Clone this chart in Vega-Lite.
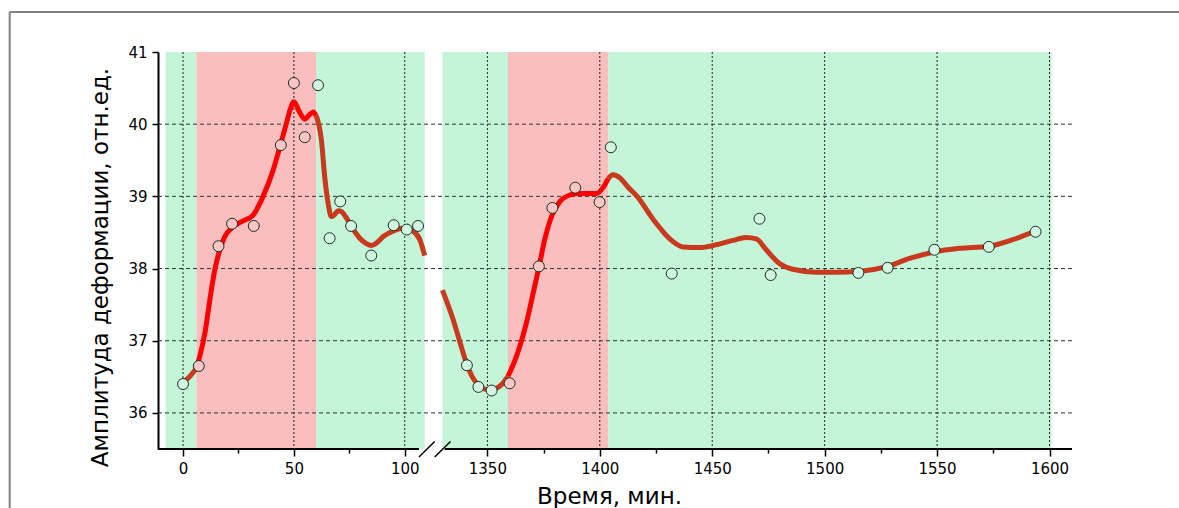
{
  "$schema": "https://vega.github.io/schema/vega-lite/v6.json",
  "width": 914,
  "height": 397,
  "autosize": {"type": "none"},
  "padding": {"left": 158, "top": 52, "right": 107, "bottom": 59},
  "background": "white",
  "config": {"view": {"stroke": null}, "font": "DejaVu Sans"},
  "datasets": {
    "bg": [
      {"t0": -7.8, "t1": 6, "state": "rest"},
      {"t0": 6, "t1": 60, "state": "load"},
      {"t0": 60, "t1": 109, "state": "rest"},
      {"t0": 1330, "t1": 1359.2, "state": "rest"},
      {"t0": 1359.2, "t1": 1403.8, "state": "load"},
      {"t0": 1403.8, "t1": 1601, "state": "rest"}
    ],
    "xgrid": [{"g": 0}, {"g": 50}, {"g": 100}, {"g": 1350}, {"g": 1400}, {"g": 1450}, {"g": 1500}, {"g": 1550}, {"g": 1600}],
    "ygrid": [{"g": 36}, {"g": 37}, {"g": 38}, {"g": 39}, {"g": 40}],
    "curve": [
      {"t": 0.8, "a": 36.44, "seg": 1, "state": "rest"},
      {"t": 3.5, "a": 36.52, "seg": 1, "state": "rest"},
      {"t": 6, "a": 36.62, "seg": 1, "state": "rest"},
      {"t": 6, "a": 36.62, "seg": 2, "state": "load"},
      {"t": 8, "a": 36.84, "seg": 2, "state": "load"},
      {"t": 10, "a": 37.13, "seg": 2, "state": "load"},
      {"t": 12, "a": 37.55, "seg": 2, "state": "load"},
      {"t": 14.3, "a": 37.98, "seg": 2, "state": "load"},
      {"t": 16.6, "a": 38.26, "seg": 2, "state": "load"},
      {"t": 18.8, "a": 38.44, "seg": 2, "state": "load"},
      {"t": 22.6, "a": 38.58, "seg": 2, "state": "load"},
      {"t": 27.1, "a": 38.66, "seg": 2, "state": "load"},
      {"t": 31.6, "a": 38.74, "seg": 2, "state": "load"},
      {"t": 36.1, "a": 39.0, "seg": 2, "state": "load"},
      {"t": 40.6, "a": 39.36, "seg": 2, "state": "load"},
      {"t": 43.9, "a": 39.71, "seg": 2, "state": "load"},
      {"t": 46.6, "a": 40.01, "seg": 2, "state": "load"},
      {"t": 48.3, "a": 40.2, "seg": 2, "state": "load"},
      {"t": 50, "a": 40.31, "seg": 2, "state": "load"},
      {"t": 52.5, "a": 40.17, "seg": 2, "state": "load"},
      {"t": 54.9, "a": 40.07, "seg": 2, "state": "load"},
      {"t": 57, "a": 40.13, "seg": 2, "state": "load"},
      {"t": 58.7, "a": 40.17, "seg": 2, "state": "load"},
      {"t": 60, "a": 40.12, "seg": 2, "state": "load"},
      {"t": 60, "a": 40.12, "seg": 3, "state": "rest"},
      {"t": 61.2, "a": 40.0, "seg": 3, "state": "rest"},
      {"t": 62.4, "a": 39.78, "seg": 3, "state": "rest"},
      {"t": 63.9, "a": 39.27, "seg": 3, "state": "rest"},
      {"t": 65.4, "a": 38.91, "seg": 3, "state": "rest"},
      {"t": 66.9, "a": 38.72, "seg": 3, "state": "rest"},
      {"t": 68.4, "a": 38.75, "seg": 3, "state": "rest"},
      {"t": 70, "a": 38.8, "seg": 3, "state": "rest"},
      {"t": 71.4, "a": 38.79, "seg": 3, "state": "rest"},
      {"t": 73.7, "a": 38.7, "seg": 3, "state": "rest"},
      {"t": 76, "a": 38.58, "seg": 3, "state": "rest"},
      {"t": 79.7, "a": 38.42, "seg": 3, "state": "rest"},
      {"t": 82.5, "a": 38.35, "seg": 3, "state": "rest"},
      {"t": 85, "a": 38.32, "seg": 3, "state": "rest"},
      {"t": 87.5, "a": 38.36, "seg": 3, "state": "rest"},
      {"t": 90.2, "a": 38.44, "seg": 3, "state": "rest"},
      {"t": 95.5, "a": 38.53, "seg": 3, "state": "rest"},
      {"t": 100, "a": 38.56, "seg": 3, "state": "rest"},
      {"t": 103.7, "a": 38.52, "seg": 3, "state": "rest"},
      {"t": 106.8, "a": 38.4, "seg": 3, "state": "rest"},
      {"t": 109, "a": 38.18, "seg": 3, "state": "rest"},
      {"t": 1330, "a": 37.7, "seg": 4, "state": "rest"},
      {"t": 1334.8, "a": 37.29, "seg": 4, "state": "rest"},
      {"t": 1337.8, "a": 36.98, "seg": 4, "state": "rest"},
      {"t": 1340.7, "a": 36.69, "seg": 4, "state": "rest"},
      {"t": 1343.3, "a": 36.5, "seg": 4, "state": "rest"},
      {"t": 1345.9, "a": 36.39, "seg": 4, "state": "rest"},
      {"t": 1348.8, "a": 36.33, "seg": 4, "state": "rest"},
      {"t": 1351.8, "a": 36.32, "seg": 4, "state": "rest"},
      {"t": 1354, "a": 36.34, "seg": 4, "state": "rest"},
      {"t": 1356.2, "a": 36.39, "seg": 4, "state": "rest"},
      {"t": 1359.2, "a": 36.51, "seg": 4, "state": "rest"},
      {"t": 1359.2, "a": 36.51, "seg": 5, "state": "load"},
      {"t": 1362.9, "a": 36.78, "seg": 5, "state": "load"},
      {"t": 1367.3, "a": 37.24, "seg": 5, "state": "load"},
      {"t": 1371, "a": 37.75, "seg": 5, "state": "load"},
      {"t": 1373, "a": 38.03, "seg": 5, "state": "load"},
      {"t": 1375.5, "a": 38.4, "seg": 5, "state": "load"},
      {"t": 1378.5, "a": 38.72, "seg": 5, "state": "load"},
      {"t": 1382.3, "a": 38.93, "seg": 5, "state": "load"},
      {"t": 1386.8, "a": 39.02, "seg": 5, "state": "load"},
      {"t": 1390.5, "a": 39.04, "seg": 5, "state": "load"},
      {"t": 1394.2, "a": 39.04, "seg": 5, "state": "load"},
      {"t": 1398.6, "a": 39.04, "seg": 5, "state": "load"},
      {"t": 1401.6, "a": 39.13, "seg": 5, "state": "load"},
      {"t": 1403.8, "a": 39.25, "seg": 5, "state": "load"},
      {"t": 1403.8, "a": 39.25, "seg": 6, "state": "rest"},
      {"t": 1405.8, "a": 39.3, "seg": 6, "state": "rest"},
      {"t": 1409.2, "a": 39.25, "seg": 6, "state": "rest"},
      {"t": 1412.5, "a": 39.13, "seg": 6, "state": "rest"},
      {"t": 1416.6, "a": 39.0, "seg": 6, "state": "rest"},
      {"t": 1424, "a": 38.67, "seg": 6, "state": "rest"},
      {"t": 1431.5, "a": 38.4, "seg": 6, "state": "rest"},
      {"t": 1436.9, "a": 38.3, "seg": 6, "state": "rest"},
      {"t": 1444.4, "a": 38.29, "seg": 6, "state": "rest"},
      {"t": 1451.8, "a": 38.33, "seg": 6, "state": "rest"},
      {"t": 1459.2, "a": 38.39, "seg": 6, "state": "rest"},
      {"t": 1465.1, "a": 38.43, "seg": 6, "state": "rest"},
      {"t": 1469.6, "a": 38.41, "seg": 6, "state": "rest"},
      {"t": 1474, "a": 38.26, "seg": 6, "state": "rest"},
      {"t": 1479.9, "a": 38.07, "seg": 6, "state": "rest"},
      {"t": 1485.8, "a": 37.99, "seg": 6, "state": "rest"},
      {"t": 1496.2, "a": 37.95, "seg": 6, "state": "rest"},
      {"t": 1505, "a": 37.95, "seg": 6, "state": "rest"},
      {"t": 1515, "a": 37.96, "seg": 6, "state": "rest"},
      {"t": 1528, "a": 38.03, "seg": 6, "state": "rest"},
      {"t": 1537.7, "a": 38.14, "seg": 6, "state": "rest"},
      {"t": 1548.8, "a": 38.23, "seg": 6, "state": "rest"},
      {"t": 1560, "a": 38.28, "seg": 6, "state": "rest"},
      {"t": 1573, "a": 38.31, "seg": 6, "state": "rest"},
      {"t": 1583.6, "a": 38.4, "seg": 6, "state": "rest"},
      {"t": 1593.8, "a": 38.52, "seg": 6, "state": "rest"}
    ],
    "points": [
      {"t": 0, "a": 36.4}, {"t": 7.1, "a": 36.65}, {"t": 16, "a": 38.31}, {"t": 22.1, "a": 38.62},
      {"t": 31.9, "a": 38.59}, {"t": 44.1, "a": 39.71}, {"t": 50, "a": 40.57}, {"t": 54.9, "a": 39.82},
      {"t": 60.9, "a": 40.54}, {"t": 66.1, "a": 38.42}, {"t": 70.9, "a": 38.93}, {"t": 75.8, "a": 38.59},
      {"t": 84.9, "a": 38.18}, {"t": 95, "a": 38.6}, {"t": 100.9, "a": 38.54}, {"t": 106, "a": 38.59},
      {"t": 1340.9, "a": 36.66}, {"t": 1346, "a": 36.36}, {"t": 1351.9, "a": 36.31}, {"t": 1359.9, "a": 36.41},
      {"t": 1372.9, "a": 38.03}, {"t": 1378.9, "a": 38.84}, {"t": 1389.1, "a": 39.12}, {"t": 1399.9, "a": 38.92},
      {"t": 1404.9, "a": 39.68}, {"t": 1432, "a": 37.93}, {"t": 1471, "a": 38.69}, {"t": 1476, "a": 37.91},
      {"t": 1515, "a": 37.94}, {"t": 1528, "a": 38.01}, {"t": 1548.8, "a": 38.26}, {"t": 1573, "a": 38.3},
      {"t": 1593.8, "a": 38.51}
    ],
    "axisline": [{"t0": -11.3, "t1": 106.4}, {"t0": 1331, "t1": 1610}],
    "breaks": [{"t0": 106.4, "t1": 799}, {"t0": 799, "t1": 1333.6}]
  },
  "layer": [
    {
      "data": {"name": "bg"},
      "mark": {"type": "rect"},
      "encoding": {
        "x": {
          "field": "t0", "type": "quantitative",
          "scale": {"domain": [-11.3, 109, 1330, 1610], "range": [0, 266.7, 284.4, 914], "zero": false, "nice": false},
          "axis": {
            "values": [0, 25, 50, 75, 100, 1350, 1375, 1400, 1425, 1450, 1475, 1500, 1525, 1550, 1575, 1600],
            "format": "d",
            "labelExpr": "datum.value % 50 === 0 ? datum.label : ''",
            "domain": false, "grid": false,
            "tickColor": "black", "tickWidth": 1.5,
            "tickSize": {"condition": {"test": "datum.value % 50 !== 0", "value": 4}, "value": 7},
            "labelFontSize": 15, "labelColor": "black", "labelPadding": 5, "labelFlush": false,
            "title": "Время, мин.", "titleFontSize": 23, "titleFontWeight": "normal", "titleColor": "black",
            "titleX": 451, "titleY": 54, "titleBaseline": "alphabetic", "titleAlign": "center"
          }
        },
        "x2": {"field": "t1"},
        "fill": {"field": "state", "type": "nominal", "scale": {"domain": ["load", "rest"], "range": ["#FBBEBE", "#C4F5D8"]}, "legend": null}
      }
    },
    {
      "data": {"name": "xgrid"},
      "mark": {"type": "rule", "color": "#222222", "strokeWidth": 1, "strokeDash": [2, 2]},
      "encoding": {
        "x": {"field": "g", "type": "quantitative"}
      }
    },
    {
      "data": {"name": "ygrid"},
      "mark": {"type": "rule", "color": "#333333", "strokeWidth": 1, "strokeDash": [4, 3]},
      "encoding": {
        "y": {"field": "g", "type": "quantitative",
          "scale": {"domain": [35.5, 41], "zero": false, "nice": false},
          "axis": {
            "values": [36, 36.5, 37, 37.5, 38, 38.5, 39, 39.5, 40, 40.5, 41],
            "labelExpr": "datum.value % 1 === 0 ? format(datum.value, 'd') : ''",
            "grid": false, "domain": true, "domainColor": "black", "domainWidth": 2,
            "tickColor": "black", "tickWidth": 1.5,
            "tickSize": {"condition": {"test": "datum.value % 1 !== 0", "value": 4}, "value": 6},
            "labelFontSize": 15, "labelColor": "black", "labelPadding": 5,
            "title": "Амплитуда деформации, отн.ед.", "titleFontSize": 23, "titleFontWeight": "normal", "titleColor": "black",
            "titleX": -58, "titleY": 215, "titleBaseline": "middle", "titleAlign": "center", "titleAngle": -90
          }
        }
      }
    },
    {
      "data": {"name": "curve"},
      "mark": {"type": "line", "interpolate": "monotone", "strokeWidth": 5, "strokeCap": "butt", "strokeJoin": "round"},
      "encoding": {
        "x": {"field": "t", "type": "quantitative"},
        "y": {"field": "a", "type": "quantitative"},
        "detail": {"field": "seg", "type": "nominal"},
        "stroke": {"field": "state", "type": "nominal", "scale": {"domain": ["load", "rest"], "range": ["#FF0000", "#C8391D"]}, "legend": null}
      }
    },
    {
      "data": {"name": "points"},
      "mark": {"type": "point", "shape": "circle", "filled": true, "size": 120, "stroke": "#1a2e22", "strokeWidth": 1, "opacity": 1},
      "encoding": {
        "x": {"field": "t", "type": "quantitative"},
        "y": {"field": "a", "type": "quantitative"},
        "fill": {"condition": {"test": "(datum.t > 6 && datum.t < 60) || (datum.t > 1359.2 && datum.t < 1403.8)", "value": "#FBC6C6"}, "value": "#D2F7E1"}
      }
    },
    {
      "data": {"name": "axisline"},
      "mark": {"type": "rule", "color": "black", "strokeWidth": 2},
      "encoding": {
        "x": {"field": "t0", "type": "quantitative"},
        "x2": {"field": "t1"},
        "y": {"datum": 35.5, "type": "quantitative"}
      }
    },
    {
      "data": {"name": "breaks"},
      "mark": {"type": "rule", "color": "black", "strokeWidth": 1.5},
      "encoding": {
        "x": {"field": "t0", "type": "quantitative"},
        "x2": {"field": "t1"},
        "y": {"datum": 35.39, "type": "quantitative"},
        "y2": {"datum": 35.605}
      }
    },
    {
      "data": {"values": [{}]},
      "mark": {"type": "rule", "color": "#808080", "strokeWidth": 2},
      "encoding": {
        "x": {"datum": -78.2, "type": "quantitative"},
        "x2": {"datum": 1660},
        "y": {"datum": 41.553, "type": "quantitative"}
      }
    },
    {
      "data": {"values": [{}]},
      "mark": {"type": "rule", "color": "#808080", "strokeWidth": 2},
      "encoding": {
        "x": {"datum": -78.2, "type": "quantitative"},
        "y": {"datum": 41.553, "type": "quantitative"},
        "y2": {"datum": 34.5}
      }
    }
  ]
}
